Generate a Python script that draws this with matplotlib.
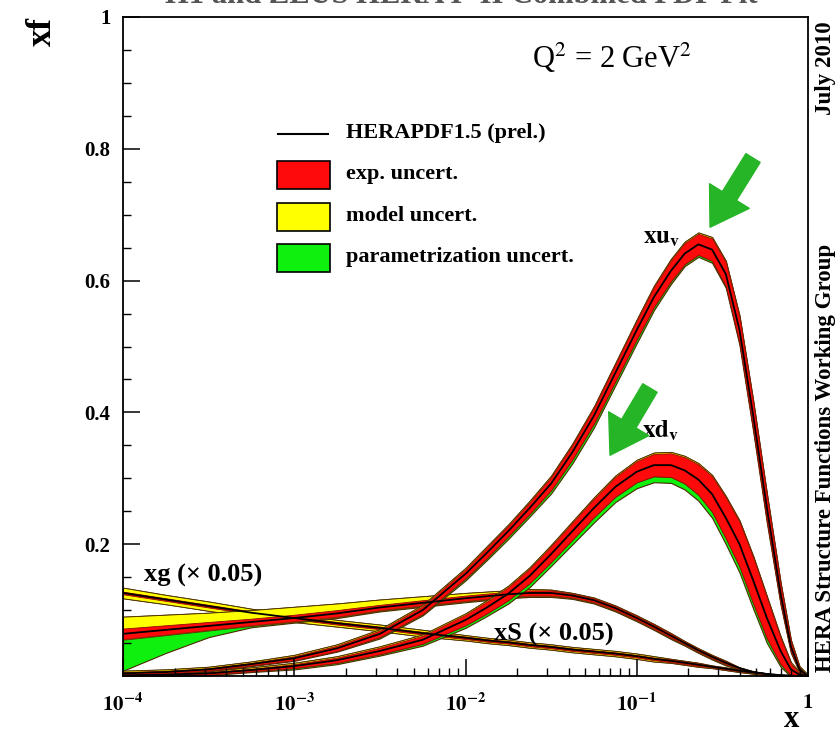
import matplotlib
matplotlib.use('Agg')
import matplotlib.pyplot as plt
import numpy as np
from matplotlib.patches import Rectangle
from matplotlib.lines import Line2D

plt.rcParams['font.family'] = ['Liberation Serif', 'DejaVu Serif']
plt.rcParams['mathtext.fontset'] = 'stix'

# x grid, as log10(x)
log_x = [-4, -3.75, -3.5, -3.25, -3, -2.75, -2.5, -2.25, -2, -1.875, -1.75, -1.625, -1.5, -1.375,
         -1.25, -1.125, -1, -0.9, -0.8, -0.72, -0.64, -0.56, -0.48, -0.4, -0.32, -0.24,
         -0.16, -0.1, -0.05, 0]

# xu_v
xuv_c = [0.004, 0.006, 0.010, 0.018, 0.027, 0.042, 0.064, 0.100, 0.155, 0.187, 0.220, 0.255, 0.292, 0.340,
         0.395, 0.460, 0.525, 0.575, 0.615, 0.641, 0.655, 0.647, 0.610, 0.525, 0.395, 0.255,
         0.125, 0.045, 0.010, 0.0]
xuv_exp = [0.002, 0.002, 0.002, 0.002, 0.003, 0.004, 0.005, 0.006, 0.007, 0.008, 0.008, 0.009, 0.010, 0.011,
           0.012, 0.013, 0.014, 0.015, 0.016, 0.016, 0.016, 0.017, 0.018, 0.020, 0.021, 0.020,
           0.015, 0.008, 0.003, 0.0]
xuv_par_dn = [0.001, 0.001, 0.001, 0.001, 0.001, 0.001, 0.002, 0.002, 0.003, 0.003, 0.004, 0.004, 0.005, 0.006,
              0.006, 0.006, 0.006, 0.005, 0.004, 0.003, 0.003, 0.003, 0.003, 0.003, 0.003, 0.003,
              0.002, 0.002, 0.001, 0.0]

# xd_v
xdv_c = [0.001, 0.002, 0.004, 0.009, 0.015, 0.024, 0.038, 0.055, 0.085, 0.104, 0.125, 0.152, 0.185, 0.220,
         0.255, 0.287, 0.310, 0.320, 0.320, 0.312, 0.298, 0.276, 0.240, 0.200, 0.145, 0.088,
         0.038, 0.010, 0.002, 0.0]
xdv_exp = [0.001, 0.001, 0.002, 0.002, 0.003, 0.004, 0.005, 0.006, 0.008, 0.009, 0.010, 0.011, 0.012, 0.013,
           0.014, 0.015, 0.016, 0.017, 0.018, 0.020, 0.023, 0.027, 0.031, 0.034, 0.035, 0.031,
           0.020, 0.009, 0.002, 0.0]
xdv_par_dn = [0.001, 0.001, 0.001, 0.001, 0.002, 0.002, 0.002, 0.003, 0.004, 0.004, 0.005, 0.006, 0.006, 0.007,
              0.008, 0.008, 0.009, 0.009, 0.009, 0.009, 0.009, 0.009, 0.009, 0.009, 0.008, 0.007,
              0.004, 0.002, 0.001, 0.0]

# xg (x 0.05)
xg_c = [0.064, 0.070, 0.076, 0.082, 0.088, 0.095, 0.104, 0.111, 0.118, 0.121, 0.124, 0.126, 0.126, 0.122,
        0.115, 0.103, 0.088, 0.075, 0.061, 0.050, 0.039, 0.029, 0.020, 0.012, 0.006, 0.003,
        0.001, 0.0003, 0.0001, 0.0]
xg_exp = [0.008, 0.007, 0.006, 0.005, 0.005, 0.005, 0.004, 0.004, 0.004, 0.004, 0.004, 0.004, 0.004, 0.003,
          0.003, 0.003, 0.003, 0.003, 0.003, 0.002, 0.002, 0.002, 0.002, 0.001, 0.001, 0.001,
          0.0, 0.0, 0.0, 0.0]
xg_mod_up = [0.018, 0.016, 0.014, 0.013, 0.012, 0.010, 0.008, 0.006, 0.004, 0.003, 0.002, 0.002, 0.001, 0.001,
             0.001, 0.001, 0.001, 0.001, 0.001, 0.001, 0.001, 0.001, 0.001, 0.0, 0.0, 0.0,
             0.0, 0.0, 0.0, 0.0]
xg_par_dn = [0.047, 0.027, 0.010, 0.002, 0.001, 0.001, 0.001, 0.001, 0.001, 0.001, 0.001, 0.001, 0.001, 0.001,
             0.001, 0.001, 0.001, 0.001, 0.001, 0.001, 0.001, 0.001, 0.001, 0.0, 0.0, 0.0,
             0.0, 0.0, 0.0, 0.0]

# xS (x 0.05)
xs_c = [0.126, 0.116, 0.106, 0.096, 0.088, 0.080, 0.073, 0.065, 0.058, 0.054, 0.051, 0.047, 0.044, 0.040,
        0.037, 0.034, 0.030, 0.026, 0.023, 0.020, 0.017, 0.014, 0.011, 0.008, 0.0055, 0.003,
        0.0013, 0.0005, 0.0001, 0.0]
xs_exp = [0.002, 0.002, 0.002, 0.002, 0.002, 0.002, 0.002, 0.002, 0.002, 0.002, 0.002, 0.002, 0.002, 0.002,
          0.002, 0.002, 0.002, 0.002, 0.002, 0.002, 0.002, 0.001, 0.001, 0.001, 0.001, 0.0,
          0.0, 0.0, 0.0, 0.0]
xs_mod = [0.006, 0.005, 0.005, 0.004, 0.004, 0.003, 0.003, 0.003, 0.002, 0.002, 0.002, 0.002, 0.002, 0.002,
          0.002, 0.002, 0.002, 0.002, 0.001, 0.001, 0.001, 0.001, 0.001, 0.001, 0.001, 0.0,
          0.0, 0.0, 0.0, 0.0]

x_ticks = [1e-4, 1e-3, 1e-2, 1e-1, 1]
x_ticklabels = [r'$\mathbf{10^{-4}}$', r'$\mathbf{10^{-3}}$', r'$\mathbf{10^{-2}}$', r'$\mathbf{10^{-1}}$', r'$\mathbf{1}$']
y_ticks = [0.2, 0.4, 0.6, 0.8, 1.0]
y_ticklabels = ['0.2', '0.4', '0.6', '0.8', '1']

RED = '#ff0a0a'
YELLOW = '#ffff00'
GREEN = '#0ef00e'
EDGE = '#4a2a00'
ARROW = '#26b526'

x = 10.0 ** np.array(log_x)
zero = np.zeros(len(log_x))

fig = plt.figure(figsize=(8.36, 7.33), dpi=100)
ax = fig.add_axes([123 / 836, 57 / 733, 685 / 836, 659 / 733])


def draw_pdf(c, exp, mod_up, mod_dn, par_up, par_dn):
    c = np.array(c)
    exp = np.array(exp)
    lo_e, hi_e = c - exp, c + exp
    lo_m, hi_m = lo_e - np.array(mod_dn), hi_e + np.array(mod_up)
    lo_p, hi_p = lo_m - np.array(par_dn), hi_m + np.array(par_up)
    ax.fill_between(x, lo_p, hi_p, facecolor=GREEN, edgecolor=EDGE, lw=0.8)
    ax.fill_between(x, lo_m, hi_m, facecolor=YELLOW, edgecolor=EDGE, lw=0.6)
    ax.fill_between(x, lo_e, hi_e, facecolor=RED, edgecolor='#8a1000', lw=0.6)
    ax.plot(x, c, color='black', lw=1.3)


draw_pdf(xs_c, xs_exp, xs_mod, xs_mod, zero, zero)
draw_pdf(xg_c, xg_exp, xg_mod_up, zero + 0.001, zero, xg_par_dn)
draw_pdf(xdv_c, xdv_exp, zero + 0.002, zero, zero, xdv_par_dn)
draw_pdf(xuv_c, xuv_exp, zero + 0.002, zero, zero, xuv_par_dn)

ax.set_xscale('log')
ax.set_xlim(1e-4, 1)
ax.set_ylim(0, 1)
ax.set_xticks(x_ticks)
ax.set_xticklabels(x_ticklabels)
ax.set_yticks(y_ticks)
ax.set_yticklabels(y_ticklabels, fontweight='bold')
ax.set_yticks(np.arange(0.05, 1.0, 0.05), minor=True)
ax.tick_params(which='major', direction='in', length=12, width=1.1, labelsize=15,
               top=False, right=False)
ax.tick_params(axis='x', which='major', pad=13)
ax.tick_params(axis='y', which='major', pad=9)
ax.tick_params(which='minor', direction='in', length=6, width=1.0, top=False, right=False)
for s in ax.spines.values():
    s.set_linewidth(1.3)

# legend drawn by hand
ax.add_line(Line2D([0.226, 0.299], [0.822, 0.822], transform=ax.transAxes, color='black', lw=1.5))
ax.add_patch(Rectangle((0.225, 0.739), 0.077, 0.042, transform=ax.transAxes,
                       facecolor=RED, edgecolor='black', lw=1.2))
ax.add_patch(Rectangle((0.225, 0.675), 0.077, 0.042, transform=ax.transAxes,
                       facecolor=YELLOW, edgecolor='black', lw=1.2))
ax.add_patch(Rectangle((0.225, 0.613), 0.077, 0.042, transform=ax.transAxes,
                       facecolor=GREEN, edgecolor='black', lw=1.2))
leg_font = dict(fontsize=16, fontweight='bold', ha='left', va='center', transform=ax.transAxes)
ax.text(0.326, 0.824, 'HERAPDF1.5 (prel.)', **leg_font)
ax.text(0.326, 0.762, 'exp. uncert.', **leg_font)
ax.text(0.326, 0.698, 'model uncert.', **leg_font)
ax.text(0.326, 0.636, 'parametrization uncert.', **leg_font)

ax.text(0.714, 0.938, r'Q$^2$ = 2 GeV$^2$', fontsize=22, ha='center', va='center',
        transform=ax.transAxes)

# curve labels
ax.text(10 ** -0.964, 0.665, r'$\mathbf{xu}_{\mathbf{v}}$', fontsize=18, ha='left', va='center')
ax.text(10 ** -0.97, 0.372, r'$\mathbf{xd}_{\mathbf{v}}$', fontsize=18, ha='left', va='center')
ax.text(10 ** -3.88, 0.152, 'xg (× 0.05)', fontsize=19, fontweight='bold', ha='left', va='center')
ax.text(10 ** -1.834, 0.063, 'xS (× 0.05)', fontsize=19, fontweight='bold', ha='left', va='center')

# green arrows
arrow_style = 'simple,head_length=1.1,head_width=1.4,tail_width=0.5'
ax.annotate('', xy=(10 ** -0.572, 0.681), xytext=(10 ** -0.321, 0.786),
            arrowprops=dict(arrowstyle=arrow_style, color=ARROW, mutation_scale=24,
                            shrinkA=0, shrinkB=0))
ax.annotate('', xy=(10 ** -1.156, 0.335), xytext=(10 ** -0.923, 0.437),
            arrowprops=dict(arrowstyle=arrow_style, color=ARROW, mutation_scale=24,
                            shrinkA=0, shrinkB=0))

# axis titles and side texts
fig.text(42 / 836, 1 - 32 / 733, 'xf', rotation=90, fontsize=25, fontweight='bold',
         ha='center', va='center')
fig.text(792 / 836, 1 - 727 / 733, 'x', fontsize=22, fontweight='bold', ha='center', va='baseline')
fig.text(826 / 836, 1 - 68 / 733, 'July 2010', rotation=90, fontsize=16.5, fontweight='bold',
         ha='center', va='center')
fig.text(826 / 836, 1 - 458 / 733, 'HERA Structure Functions Working Group', rotation=90,
         fontsize=16.5, fontweight='bold', ha='center', va='center')
# title cut by the top edge of the picture
fig.text(0.552, 1 - 3 / 733, 'H1 and ZEUS HERA I+II Combined PDF Fit', fontsize=22,
         fontweight='bold', color='#555555', ha='center', va='baseline')

fig.savefig('out.png', dpi=100)
